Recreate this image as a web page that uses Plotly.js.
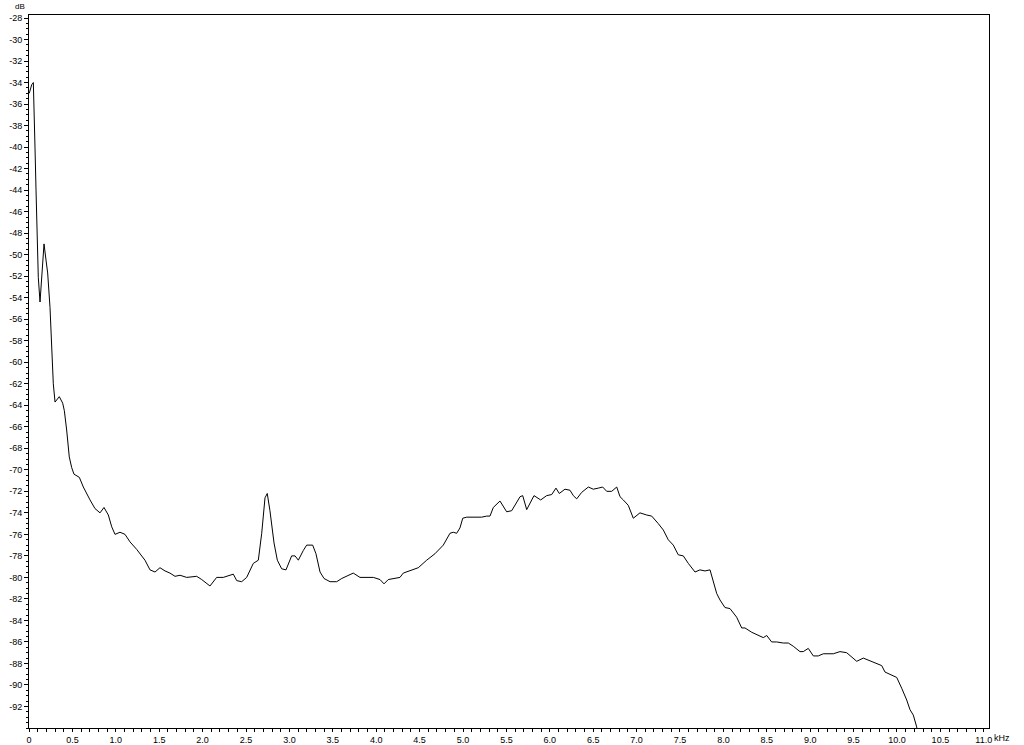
<!DOCTYPE html>
<html>
<head>
<meta charset="utf-8">
<script src="https://cdn.plot.ly/plotly-3.0.1.min.js"></script>
<style>html,body{margin:0;padding:0;background:#fff;}#chart{width:1024px;height:745px;}</style>
</head>
<body>
<div id="chart"></div>
<script>
// Frequency (kHz)
const freqKHz = [0.003,0.031,0.050,0.058,0.069,0.081,0.092,0.107,0.127,0.158,0.173,0.196,0.215,0.242,0.262,0.280,0.300,0.326,0.349,0.388,0.407,0.434,0.464,0.492,0.518,0.580,0.626,0.703,0.760,0.818,0.864,0.914,0.953,0.991,1.048,1.106,1.164,1.241,1.336,1.394,1.452,1.509,1.567,1.624,1.682,1.740,1.817,1.932,1.990,2.085,2.162,2.238,2.354,2.393,2.450,2.508,2.584,2.642,2.681,2.719,2.745,2.776,2.823,2.861,2.911,2.961,2.987,3.026,3.065,3.103,3.160,3.199,3.268,3.306,3.353,3.399,3.468,3.545,3.603,3.660,3.736,3.813,3.891,3.967,4.044,4.090,4.139,4.197,4.274,4.312,4.351,4.427,4.485,4.582,4.677,4.773,4.850,4.888,4.927,4.965,4.997,5.043,5.158,5.215,5.273,5.311,5.349,5.426,5.503,5.561,5.657,5.688,5.734,5.818,5.895,5.964,6.022,6.071,6.109,6.175,6.233,6.271,6.310,6.367,6.444,6.501,6.559,6.609,6.656,6.713,6.771,6.809,6.847,6.904,6.962,7.039,7.116,7.174,7.250,7.308,7.365,7.423,7.480,7.538,7.596,7.673,7.730,7.788,7.846,7.884,7.923,7.961,8.018,8.076,8.153,8.211,8.249,8.326,8.384,8.460,8.499,8.556,8.614,8.690,8.748,8.805,8.882,8.920,8.978,9.036,9.093,9.151,9.266,9.343,9.420,9.478,9.536,9.612,9.669,9.747,9.824,9.862,9.919,9.997,10.054,10.112,10.150,10.188,10.227,10.240];
// Level (dB)
const levelDB = [-35.0,-34.2,-34.0,-35.9,-40.0,-44.0,-47.9,-52.1,-54.4,-51.2,-49.0,-50.5,-51.7,-54.9,-59.2,-62.0,-63.7,-63.4,-63.2,-63.8,-64.5,-66.3,-68.8,-69.8,-70.4,-70.7,-71.6,-72.8,-73.6,-74.0,-73.5,-74.2,-75.3,-76.0,-75.8,-76.0,-76.7,-77.4,-78.4,-79.3,-79.5,-79.1,-79.4,-79.6,-79.9,-79.8,-80.0,-79.9,-80.2,-80.8,-80.0,-80.0,-79.7,-80.3,-80.4,-80.0,-78.7,-78.4,-75.9,-72.6,-72.2,-73.8,-76.8,-78.4,-79.2,-79.3,-78.7,-78.0,-78.0,-78.4,-77.5,-77.0,-77.0,-77.8,-79.5,-80.1,-80.4,-80.4,-80.1,-79.9,-79.6,-80.0,-80.0,-80.0,-80.2,-80.6,-80.2,-80.1,-80.0,-79.6,-79.5,-79.3,-79.1,-78.4,-77.8,-77.0,-75.9,-75.8,-75.9,-75.4,-74.5,-74.4,-74.4,-74.4,-74.3,-74.3,-73.5,-72.9,-73.9,-73.8,-72.5,-72.4,-73.7,-72.4,-72.8,-72.4,-72.3,-71.7,-72.2,-71.8,-71.9,-72.4,-72.7,-72.1,-71.6,-71.8,-71.7,-71.6,-72.0,-72.0,-71.6,-72.5,-72.8,-73.3,-74.5,-74.0,-74.2,-74.3,-75.0,-75.6,-76.5,-77.0,-77.9,-78.0,-78.7,-79.5,-79.3,-79.4,-79.3,-80.3,-81.5,-82.1,-82.8,-82.9,-83.7,-84.7,-84.7,-85.1,-85.3,-85.6,-85.4,-86.0,-86.0,-86.1,-86.1,-86.4,-86.9,-86.9,-86.6,-87.3,-87.3,-87.1,-87.1,-86.9,-87.0,-87.4,-87.8,-87.5,-87.7,-87.9,-88.2,-88.8,-89.0,-89.3,-90.3,-91.4,-92.3,-92.8,-93.9,-95.0];

const xTickVals = [0,0.5,1,1.5,2,2.5,3,3.5,4,4.5,5,5.5,6,6.5,7,7.5,8,8.5,9,9.5,10,10.5,11];
const xTickText = ["0","0.5","1.0","1.5","2.0","2.5","3.0","3.5","4.0","4.5","5.0","5.5","6.0","6.5","7.0","7.5","8.0","8.5","9.0","9.5","10.0","10.5","11.0"];
const yTickVals = [-28,-30,-32,-34,-36,-38,-40,-42,-44,-46,-48,-50,-52,-54,-56,-58,-60,-62,-64,-66,-68,-70,-72,-74,-76,-78,-80,-82,-84,-86,-88,-90,-92];
const yTickText = yTickVals.map(v => "-" + Math.abs(v));

const font = {family: "Liberation Sans, Arial, sans-serif", size: 9, color: "#000"};

Plotly.newPlot("chart", [{
  x: freqKHz, y: levelDB, type: "scatter", mode: "lines",
  line: {color: "#000", width: 1}, hoverinfo: "skip", cliponaxis: true
}], {
  width: 1024, height: 745,
  margin: {l: 29, r: 35, t: 15, b: 17, pad: 0},
  paper_bgcolor: "#fff", plot_bgcolor: "#fff",
  showlegend: false,
  font: font,
  xaxis: {
    range: [0, 11.06], showgrid: false, zeroline: false,
    showline: true, linecolor: "#000", linewidth: 1, mirror: true,
    ticks: "outside", ticklen: 3, tickcolor: "#000", tickwidth: 1,
    tickvals: xTickVals, ticktext: xTickText, tickfont: font, ticklabelstandoff: 0,
    minor: {dtick: 0.1, tick0: 0, ticks: "outside", ticklen: 3, tickcolor: "#000", showgrid: false}
  },
  yaxis: {
    range: [-94, -27.72], showgrid: false, zeroline: false,
    showline: true, linecolor: "#000", linewidth: 1, mirror: true,
    ticks: "outside", ticklen: 4, tickcolor: "#000", tickwidth: 1,
    tickvals: yTickVals, ticktext: yTickText, tickfont: font,
    minor: {dtick: 0.5, tick0: 0, ticks: "outside", ticklen: 2, tickcolor: "#000", showgrid: false}
  },
  annotations: [
    {text: "dB", xref: "paper", yref: "paper", x: -0.0094, y: 1, xanchor: "center", yanchor: "bottom", yshift: 2, showarrow: false, font: {family: font.family, size: 8, color: "#000"}},
    {text: "kHz", xref: "x", yref: "paper", x: 11.0, y: 0, xanchor: "left", yanchor: "top", xshift: 8, yshift: -3, showarrow: false, font: font}
  ]
}, {staticPlot: true, displayModeBar: false});
</script>
</body>
</html>
